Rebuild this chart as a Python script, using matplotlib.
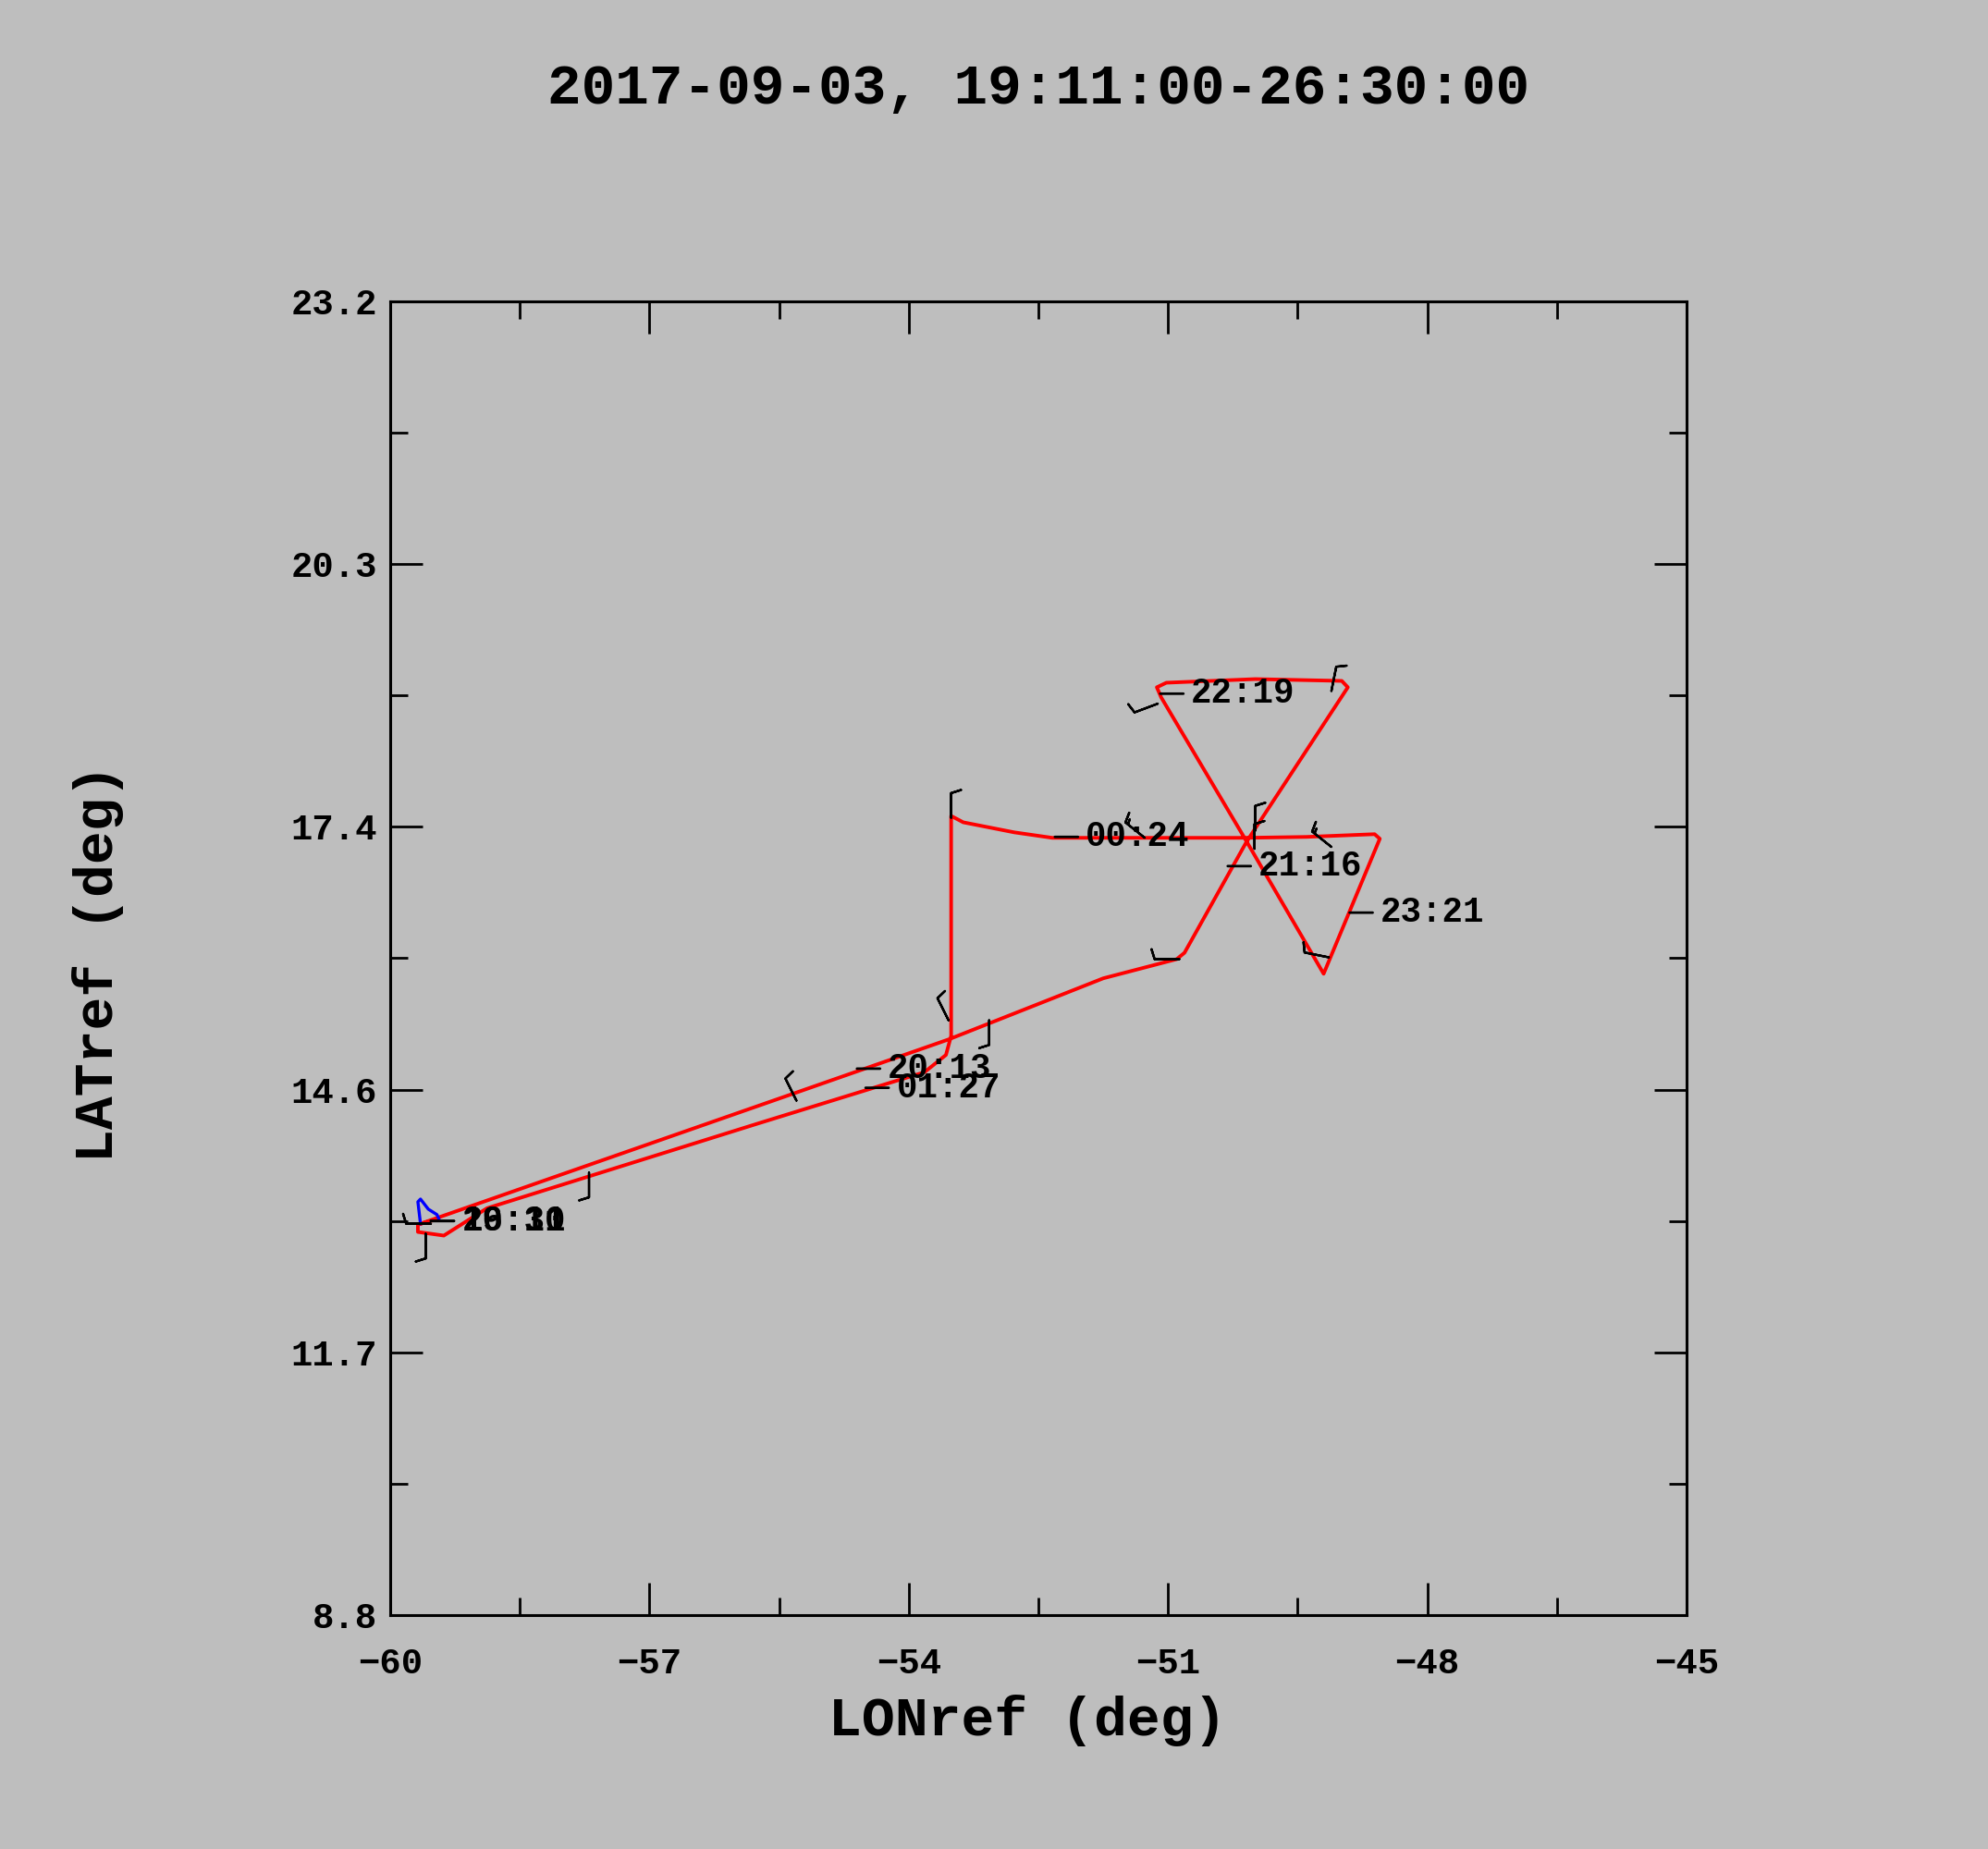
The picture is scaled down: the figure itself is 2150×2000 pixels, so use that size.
import numpy as np
import matplotlib
matplotlib.use("Agg")
import matplotlib.pyplot as plt
from matplotlib.ticker import FixedLocator, MultipleLocator

# Flight track (red)
track_lon = [-59.65, -53.54, -51.75, -50.90, -50.81, -50.09, -48.92, -48.99, -49.99, -51.02,
             -51.13, -51.08, -50.11, -49.20, -48.55, -48.61, -49.40, -50.09, -52.34, -52.78,
             -53.37, -53.51, -53.51, -53.57, -53.82, -54.03, -55.74, -58.88, -59.38, -59.68,
             -59.68, -59.46]
track_lat = [13.09, 15.11, 15.78, 15.99, 16.06, 17.28, 18.97, 19.04, 19.06, 19.02,
             18.97, 18.86, 17.31, 15.83, 17.31, 17.36, 17.33, 17.32, 17.32, 17.38,
             17.49, 17.56, 15.15, 14.94, 14.75, 14.69, 14.19, 13.26, 12.96, 13.00,
             13.08, 13.14]

# Short blue segment near the airport
blue_lon = [-59.65, -59.68, -59.65, -59.56, -59.46, -59.44]
blue_lat = [13.09, 13.33, 13.36, 13.25, 13.19, 13.15]

# Time labels
label_times = ["19:11", "26:30", "20:13", "01:27", "21:16", "22:19", "23:21", "00:24"]
label_lon = [-59.53, -59.53, -54.60, -54.50, -50.31, -51.09, -48.90, -52.31]
label_lat = [13.12, 13.12, 14.79, 14.58, 17.01, 18.90, 16.50, 17.33]

# Wind barbs along the track
barb_lon = [-53.51, -51.12, -49.11, -49.99, -49.11, -51.27, -49.14, -50.87,
            -53.54, -53.07, -55.30, -57.70, -59.53, -59.59, -50.00]
barb_lat = [17.54, 18.79, 18.93, 17.40, 17.22, 17.32, 16.01, 15.99,
            15.32, 15.32, 14.44, 13.65, 13.09, 12.98, 17.20]
barb_u = [0, 8, -2, 0, 10, 10, 10, 10, 5, 0, 5, 0, 10, 0, 0]
barb_v = [-10, 3, -10, -10, -8, -8, -2, 0, -10, 10, -10, 10, 0, 10, -10]

lon_ticks = [-60, -57, -54, -51, -48, -45]
lat_ticks = [8.8, 11.68, 14.56, 17.44, 20.32, 23.2]
lat_tick_labels = ["8.8", "11.7", "14.6", "17.4", "20.3", "23.2"]
lat_minor = [10.24, 13.12, 16.0, 18.88, 21.76]

BG = "#bebebe"
FONT = "Liberation Mono"

fig = plt.figure(figsize=(21.5, 20), dpi=100, facecolor=BG)
ax = fig.add_axes([0.1963, 0.1265, 0.6521, 0.7105], facecolor=BG)

ax.plot(track_lon, track_lat, color="#ff0000", lw=2.8, zorder=3)
ax.plot(blue_lon, blue_lat, color="#0000ff", lw=2.4, zorder=3)

ax.barbs(barb_lon, barb_lat, barb_u, barb_v, length=6.2, lw=1.7, color="black", zorder=4)

for t, x, y in zip(label_times, label_lon, label_lat):
    ax.annotate(t, xy=(x, y), xytext=(24, 0), textcoords="offset points",
                ha="left", va="center", fontsize=27, fontweight="bold", family=FONT,
                arrowprops=dict(arrowstyle="-", lw=2.0, color="black", shrinkA=4, shrinkB=0),
                zorder=5)

ax.set_xlim(-60, -45)
ax.set_ylim(8.8, 23.2)
ax.xaxis.set_major_locator(FixedLocator(lon_ticks))
ax.xaxis.set_minor_locator(MultipleLocator(1.5))
ax.yaxis.set_major_locator(FixedLocator(lat_ticks))
ax.set_yticklabels(lat_tick_labels)
ax.yaxis.set_minor_locator(FixedLocator(lat_minor))

ax.tick_params(which="both", direction="in", top=True, right=True, width=2, color="black")
ax.tick_params(which="major", length=25)
ax.tick_params(which="minor", length=14)
ax.tick_params(axis="x", pad=25)
ax.tick_params(axis="y", pad=10)
for lab in ax.get_xticklabels() + ax.get_yticklabels():
    lab.set_fontfamily(FONT)
    lab.set_fontweight("bold")
    lab.set_fontsize(28)

for s in ax.spines.values():
    s.set_linewidth(2.2)
    s.set_color("black")

fig.text(0.5223, 0.952, "2017-09-03, 19:11:00-26:30:00", ha="center", va="center",
         fontsize=44, fontweight="bold", family=FONT)
fig.text(0.517, 0.0695, "LONref (deg)", ha="center", va="center",
         fontsize=43, fontweight="bold", family=FONT)
fig.text(0.0493, 0.479, "LATref (deg)", ha="center", va="center", rotation=90,
         fontsize=43, fontweight="bold", family=FONT)

fig.savefig("out.png", dpi=100, facecolor=BG)
